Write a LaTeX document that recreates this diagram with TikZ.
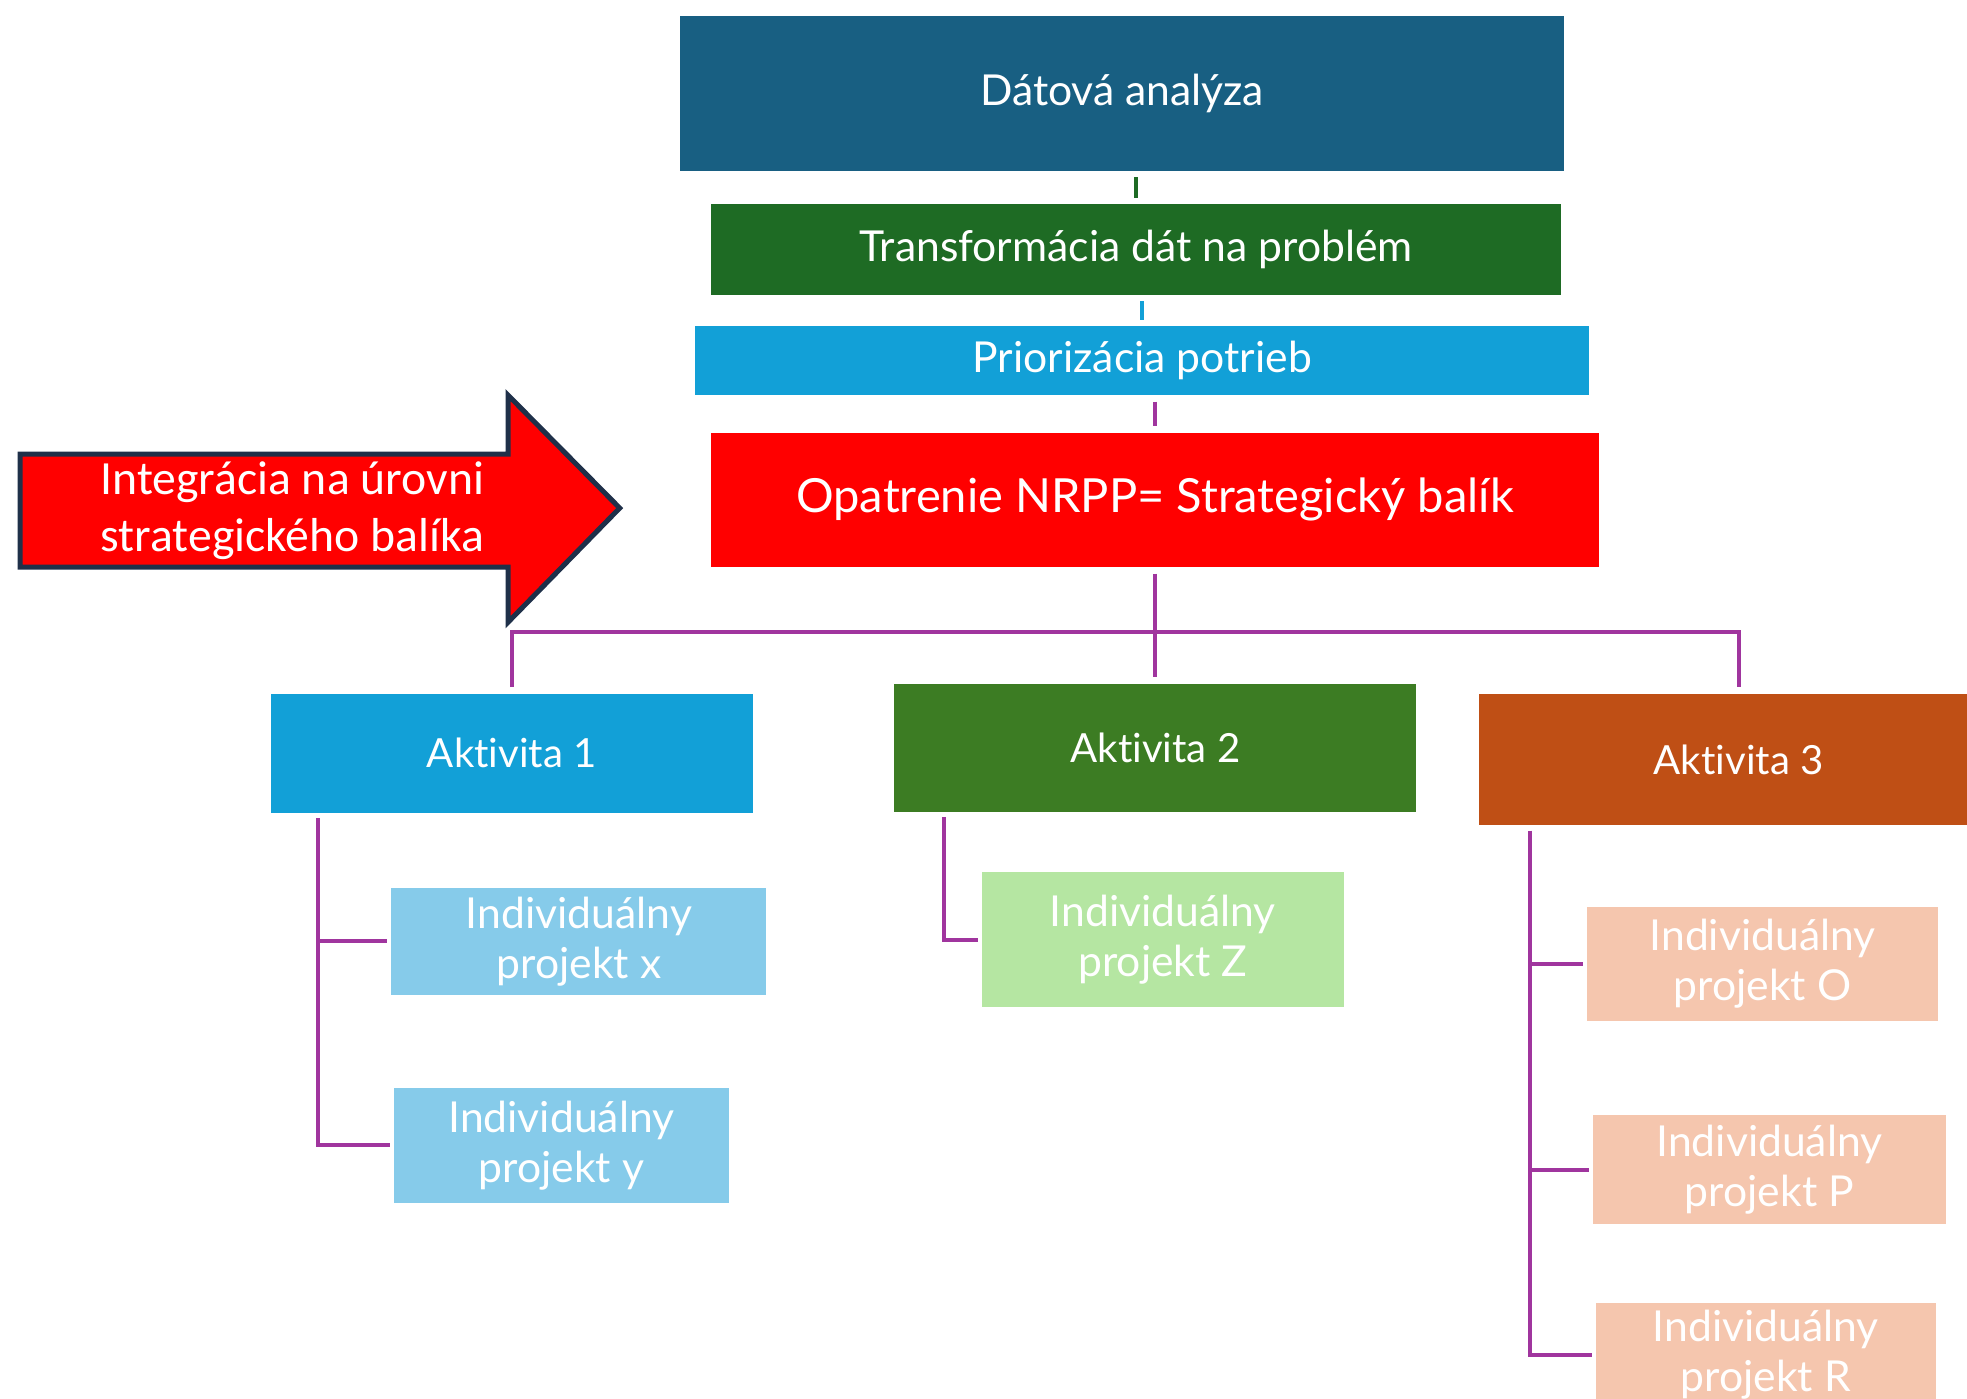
\documentclass[tikz,border=0pt]{standalone}
\usepackage{fontspec}
\setmainfont{Lato}[Ligatures=CommonOff]
\newfontfamily\arrowfont{Carlito}
\definecolor{datblue}{HTML}{185F82}
\definecolor{trgreen}{HTML}{1E6B24}
\definecolor{pblue}{HTML}{12A0D7}
\definecolor{akttwo}{HTML}{3C7C23}
\definecolor{aktthree}{HTML}{BF4F15}
\definecolor{lblue}{HTML}{86CBEA}
\definecolor{lgreen}{HTML}{B5E6A2}
\definecolor{peach}{HTML}{F5C6AE}
\definecolor{purp}{HTML}{A0359E}
\definecolor{navy}{HTML}{1F3049}
\begin{document}
\begin{tikzpicture}[x=1pt,y=-1pt,
  box/.style={rectangle, inner sep=0pt, text=white, align=center, font=\fontsize{34}{40}\selectfont},
  akt/.style={box, font=\fontsize{32}{38}\selectfont},
  proj/.style={box, font=\fontsize{34}{40}\selectfont},
  conn/.style={draw=purp, line width=3.2pt},
  gap/.style={shorten <=5pt, shorten >=5pt}]
\useasboundingbox (0,0) rectangle (1568,1115);
\clip (0,0) rectangle (1568,1115);
% top chain
\node[box, fill=datblue, minimum width=705pt, minimum height=123pt] (dat) at (894.5,74.5) {Dátová analýza};
\node[box, fill=trgreen, minimum width=677pt, minimum height=72pt] (tra) at (905.5,199) {Transformácia dát na problém};
\node[box, fill=pblue, minimum width=713pt, minimum height=55pt] (pri) at (910.5,287.5) {Priorizácia potrieb};
\node[box, fill=red, minimum width=708pt, minimum height=107pt, font=\fontsize{37.5}{44}\selectfont] (opa) at (921,398.5) {Opatrenie NRPP= Strategický balík};
\draw[gap, draw=trgreen, line width=3pt] (dat.south -| tra.north) -- (tra.north);
\draw[gap, draw=pblue, line width=3pt] (tra.south -| pri.north) -- (pri.north);
\draw[gap, conn] (pri.south -| opa.north) -- (opa.north);
% activities
\node[akt, fill=pblue, minimum width=384pt, minimum height=95pt] (akt1) at (408,600.5) {Aktivita 1};
\node[akt, fill=akttwo, minimum width=416pt, minimum height=102pt] (akt2) at (921,596) {Aktivita 2};
\node[akt, fill=aktthree, minimum width=414pt, minimum height=105pt] (akt3) at (1386,605.5) {Aktivita 3};
\coordinate (bus) at (921,504);
\draw[gap, conn] (opa.south) -- (akt2.north);
\draw[conn] ([yshift=5pt]akt1.north) |- (bus) -| ([yshift=5pt]akt3.north);
% projects
\node[proj, fill=lblue, minimum width=299pt, minimum height=85pt] (px) at (461.5,750.5) {Individuálny\\projekt x};
\node[proj, fill=lblue, minimum width=267pt, minimum height=92pt] (py) at (447.5,913) {Individuálny\\projekt y};
\node[proj, fill=lgreen, minimum width=288pt, minimum height=108pt] (pz) at (927,749) {Individuálny\\projekt Z};
\node[proj, fill=peach, minimum width=280pt, minimum height=91pt] (po) at (1405,768.5) {Individuálny\\projekt O};
\node[proj, fill=peach, minimum width=281pt, minimum height=87pt] (pp) at (1410.5,932.5) {Individuálny\\projekt P};
\node[proj, fill=peach, minimum width=271pt, minimum height=82pt] (pr) at (1407.5,1080) {Individuálny\\projekt R};
\coordinate (s1) at ([xshift=38pt,yshift=-4pt]akt1.south west);
\draw[conn] (s1) |- ([xshift=-3pt]py.west);
\draw[conn] (s1 |- px.west) -- ([xshift=-3pt]px.west);
\coordinate (s2) at ([xshift=40pt,yshift=-4pt]akt2.south west);
\draw[conn] (s2) |- ([xshift=-3pt]pz.west);
\coordinate (s3) at ([xshift=41pt,yshift=-4pt]akt3.south west);
\draw[conn] (s3) |- ([xshift=-3pt]pr.west);
\draw[conn] (s3 |- po.west) -- ([xshift=-3pt]po.west);
\draw[conn] (s3 |- pp.west) -- ([xshift=-3pt]pp.west);
% integration arrow
\draw[fill=red, draw=navy, line width=4pt, line join=miter]
  (16,362) -- (405,362) -- (405,315) -- (494,405) -- (405,496) -- (405,452) -- (16,452) -- cycle;
\node[text=white, align=center, font=\arrowfont\fontsize{38}{45}\selectfont] (arrtxt) at (233,407) {Integrácia na úrovni\\strategického balíka};
\end{tikzpicture}
\end{document}
